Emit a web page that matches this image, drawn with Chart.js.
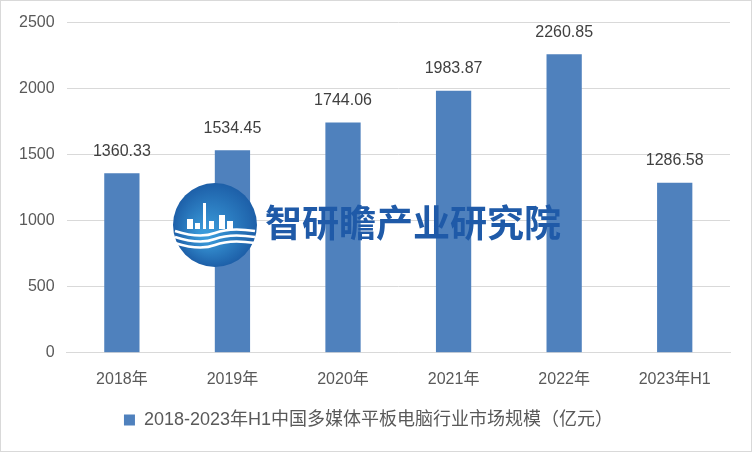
<!DOCTYPE html>
<html>
<head>
<meta charset="utf-8">
<script src="https://cdn.jsdelivr.net/npm/chart.js@4"></script>
<style>
    body { margin: 0; background: #fff; }
    .wrap { position: relative; width: 752px; height: 452px; box-sizing: border-box; border: 1px solid #d9d9d9; }
    canvas { position: absolute; left: 0; top: 0; }
</style>
</head>
<body>
<div class="wrap"><canvas id="myChart" width="750" height="450"></canvas></div>
<script>
const years = ['2018年', '2019年', '2020年', '2021年', '2022年', '2023年H1']
const marketSize = [1360.33, 1534.45, 1744.06, 1983.87, 2260.85, 1286.58]
const seriesName = '2018-2023年H1中国多媒体平板电脑行业市场规模（亿元）'
const yTicks = [0, 500, 1000, 1500, 2000, 2500]

const fontFamily = '"Liberation Sans", "Noto Sans CJK SC", sans-serif'

// value labels above bars
const valueLabels = {
    id: 'valueLabels',
    afterDatasetsDraw(chart) {
        const ctx = chart.ctx
        const meta = chart.getDatasetMeta(0)
        ctx.save()
        ctx.font = '16px ' + fontFamily
        ctx.fillStyle = '#404040'
        ctx.textAlign = 'center'
        ctx.textBaseline = 'middle'
        meta.data.forEach((bar, i) => {
            ctx.fillText(marketSize[i].toFixed(2), bar.x, bar.y - 22)
        })
        ctx.restore()
    }
}

// watermark logo
const watermark = {
    id: 'watermark',
    afterDraw(chart) {
        const ctx = chart.ctx
        const cx = 214, cy = 224, r = 42
        ctx.save()
        const g = ctx.createRadialGradient(cx - 10, cy + 10, 5, cx, cy, r)
        g.addColorStop(0, '#3a9ad9')
        g.addColorStop(1, '#1d5fa8')
        ctx.fillStyle = g
        ctx.beginPath()
        ctx.arc(cx, cy, r, 0, Math.PI * 2)
        ctx.fill()
        // little buildings
        ctx.fillStyle = '#ffffff'
        ctx.fillRect(cx - 28, cy - 6, 6, 10)
        ctx.fillRect(cx - 20, cy - 2, 5, 6)
        ctx.fillRect(cx - 12, cy - 22, 3, 26)
        ctx.fillRect(cx - 6, cy - 4, 5, 8)
        ctx.fillRect(cx + 4, cy - 10, 6, 14)
        ctx.fillRect(cx + 12, cy - 4, 6, 8)
        // waves
        ctx.strokeStyle = '#ffffff'
        ctx.lineWidth = 2.5
        for (let k = 0; k < 3; k++) {
            const y = cy + 8 + k * 6
            ctx.beginPath()
            ctx.moveTo(cx - 40, y - 2)
            ctx.quadraticCurveTo(cx - 15, y + 6, cx, y)
            ctx.quadraticCurveTo(cx + 15, y - 6, cx + 40, y - 2)
            ctx.stroke()
        }
        ctx.font = 'bold 37px "Noto Sans CJK SC", sans-serif'
        ctx.fillStyle = '#1f5aa8'
        ctx.textAlign = 'left'
        ctx.textBaseline = 'middle'
        ctx.fillText('智研瞻产业研究院', 264, 222)
        ctx.restore()
    }
}

const ctx = document.getElementById('myChart').getContext('2d')
const myChart = new Chart(ctx, {
    type: 'bar',
    data: {
        labels: years,
        datasets: [{
            label: seriesName,
            data: marketSize,
            backgroundColor: '#4f81bd',
            borderWidth: 0,
            barPercentage: 0.55,
            categoryPercentage: 0.58
        }]
    },
    plugins: [valueLabels, watermark],
    options: {
        responsive: false,
        animation: false,
        layout: {
            padding: { left: 6, right: 21, top: 18, bottom: 12 }
        },
        scales: {
            x: {
                grid: { display: false },
                border: { color: '#d9d9d9', width: 1 },
                ticks: {
                    color: '#595959',
                    font: { family: fontFamily, size: 16 },
                    padding: 9
                }
            },
            y: {
                min: 0,
                max: 2500,
                afterBuildTicks(axis) {
                    axis.ticks = yTicks.map(v => ({ value: v }))
                },
                grid: { color: '#d9d9d9', lineWidth: 1, drawTicks: false },
                border: { display: false },
                ticks: {
                    color: '#595959',
                    font: { family: fontFamily, size: 16 },
                    padding: 12,
                    callback: v => String(v)
                }
            }
        },
        plugins: {
            legend: {
                display: true,
                position: 'bottom',
                labels: {
                    color: '#595959',
                    font: { family: fontFamily, size: 18 },
                    boxWidth: 11,
                    boxHeight: 11,
                    padding: 13
                }
            },
            tooltip: { enabled: false }
        }
    }
})
</script>
</body>
</html>
